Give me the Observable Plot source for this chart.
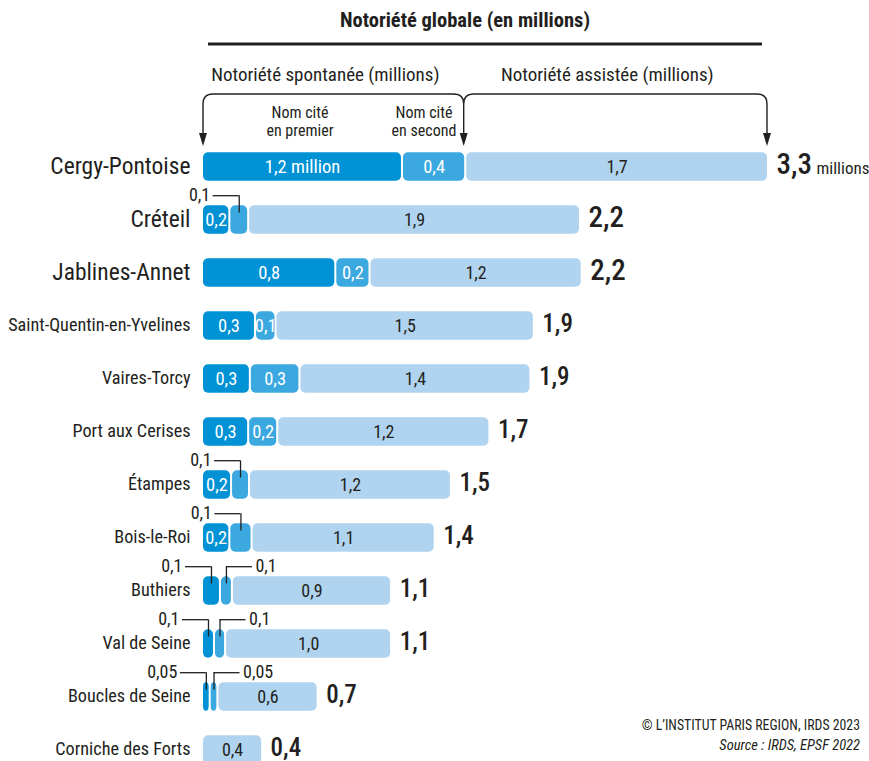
<!DOCTYPE html>
<html><head><meta charset="utf-8">
<script src="https://cdn.jsdelivr.net/npm/d3@7"></script>
<script src="https://cdn.jsdelivr.net/npm/@observablehq/plot@0.6"></script>
<style>
html,body{margin:0;padding:0;background:#fff;overflow:hidden}
#chart svg{display:block}
#chart svg, #chart svg text{font-stretch:75%}
#chart svg text.semi{font-stretch:87.5%}
</style></head><body><div id="chart"></div>
<script>
// ---- data ----
const sites = ["Cergy-Pontoise","Créteil","Jablines-Annet","Saint-Quentin-en-Yvelines","Vaires-Torcy","Port aux Cerises","Étampes","Bois-le-Roi","Buthiers","Val de Seine","Boucles de Seine","Corniche des Forts"];
// bar lengths (millions)
const first    = [1.17, 0.16, 0.78, 0.31, 0.28, 0.27, 0.17, 0.16, 0.105, 0.07, 0.045, 0];
const second   = [0.37, 0.11, 0.20, 0.12, 0.29, 0.17, 0.105, 0.13, 0.07, 0.065, 0.045, 0];
const assisted = [1.76, 1.93, 1.23, 1.50, 1.34, 1.23, 1.17, 1.06, 0.92, 0.96, 0.575, 0.34];
// printed values
const firstLabels    = ["1,2 million","0,2","0,8","0,3","0,3","0,3","0,2","0,2","0,1","0,1","0,05",""];
const secondLabels   = ["0,4","0,1","0,2","0,1","0,3","0,2","0,1","0,1","0,1","0,1","0,05",""];
const assistedLabels = ["1,7","1,9","1,2","1,5","1,4","1,2","1,2","1,1","0,9","1,0","0,6","0,4"];
const totalLabels    = ["3,3","2,2","2,2","1,9","1,9","1,7","1,5","1,4","1,1","1,1","0,7","0,4"];
// where a value is printed outside its bar with a leader ("L" left, "R" right)
const firstCallout  = ["","","","","","","","","L","L","L",""];
const secondCallout = ["","L","","","","","L","L","R","R","R",""];

const FONT = 'Roboto,"DejaVu Sans Condensed",sans-serif';
const INK = "#231f20";
const colors = {first: "#0092d4", second: "#3ba8e0", assisted: "#b0d4ef"};

// ---- build table ----
const segs = [];
const totals = [];
sites.forEach((site, i) => {
  const a = first[i], b = second[i], c = assisted[i];
  segs.push({site, i, seg: "first", x1: 0, x2: a, label: firstLabels[i], callout: firstCallout[i]});
  segs.push({site, i, seg: "second", x1: a, x2: a + b, label: secondLabels[i], callout: secondCallout[i]});
  segs.push({site, i, seg: "assisted", x1: a + b, x2: a + b + c, label: assistedLabels[i], callout: ""});
  totals.push({site, i, total: a + b + c, label: totalLabels[i]});
});
const drawn = segs.filter(d => d.x2 > d.x1);
const xMax = totals[0].total;
const pxPerUnit = (767 - 203) / xMax;
const lead = 26 / pxPerUnit;     // leader length
const inside = drawn.filter(d => d.label && !d.callout);
const callL = drawn.filter(d => d.callout === "L");
const callR = drawn.filter(d => d.callout === "R");
const mid = d => (d.x1 + d.x2) / 2 - 1 / pxPerUnit;
const barOpts = {y: "site", x1: "x1", x2: "x2", insetTop: 12.2, insetBottom: 12.2, rx: 5};

const plot = Plot.plot({
  width: 869,
  height: 761,
  x: {domain: [0, xMax], range: [203, 767], axis: null},
  y: {domain: sites, range: [138.8, 776.6], padding: 0, axis: null},
  style: {fontFamily: FONT, background: "white", color: INK},
  marks: [
    Plot.barX(drawn.filter(d => d.seg === "first"), {...barOpts, fill: colors.first, insetRight: 2}),
    Plot.barX(drawn.filter(d => d.seg === "second"), {...barOpts, fill: colors.second, insetRight: 2}),
    Plot.barX(drawn.filter(d => d.seg === "assisted"), {...barOpts, fill: colors.assisted}),
    // values inside bars
    Plot.text(inside.filter(d => d.seg !== "assisted"), {x: mid, y: "site", text: "label", fill: "white", fontSize: 18.5}),
    Plot.text(inside.filter(d => d.seg === "assisted"), {x: d => (d.x1 + d.x2) / 2, y: "site", text: "label", fill: INK, fontSize: 18}),
    // leader lines
    Plot.tickX(callL.concat(callR), {x: mid, y: "site", stroke: INK, strokeWidth: 1.3, insetTop: 2.3, insetBottom: 33.6}),
    Plot.ruleY(callL, {y: "site", x1: d => mid(d) - lead, x2: mid, dy: -24.3, stroke: INK, strokeWidth: 1.3}),
    Plot.ruleY(callR, {y: "site", x1: mid, x2: d => mid(d) + lead, dy: -24.3, stroke: INK, strokeWidth: 1.3}),
    Plot.text(callL, {x: d => mid(d) - lead, y: "site", text: "label", dx: -3, dy: -24.3, textAnchor: "end", fill: INK, fontSize: 18}),
    Plot.text(callR, {x: d => mid(d) + lead, y: "site", text: "label", dx: 3, dy: -24.3, textAnchor: "start", fill: INK, fontSize: 18}),
    // site names
    Plot.text(totals, {x: () => 0, y: "site", text: "site", dx: -13, dy: -1, textAnchor: "end", fill: INK, fontSize: d => d.i < 3 ? 23.5 : 18.2}),
    // totals
    Plot.text(totals, {x: "total", y: "site", text: "label", dx: 9, dy: -2, textAnchor: "start", fill: INK, fontWeight: 500, fontSize: d => d.i < 3 ? 29 : 25}),
    Plot.text(totals.slice(0, 1), {x: "total", y: "site", text: () => "millions", dx: 49, dy: 2, textAnchor: "start", fill: INK, fontSize: 17})
  ]
});
document.getElementById("chart").append(plot);

// ---- header annotation (positions from the x scale) ----
const svg = d3.select(plot);
const xs = plot.scale("x");
const xa = xs.apply(0), xb = xs.apply(first[0] + second[0]) - 2.5, xc = xs.apply(xMax);
const g = svg.append("g").attr("fill", INK).attr("font-family", FONT);
g.append("text").attr("x", 465).attr("y", 27).attr("text-anchor", "middle")
  .attr("font-size", 20.5).attr("font-weight", "bold").text("Notoriété globale (en millions)");
g.append("line").attr("x1", 208).attr("x2", 762).attr("y1", 44).attr("y2", 44)
  .attr("stroke", INK).attr("stroke-width", 3);
g.append("text").attr("x", (xa + xb) / 2 - 8).attr("y", 81).attr("text-anchor", "middle")
  .attr("font-size", 19).text("Notoriété spontanée (millions)");
g.append("text").attr("x", (xb + xc) / 2 - 8).attr("y", 81).attr("text-anchor", "middle")
  .attr("font-size", 19).text("Notoriété assistée (millions)");
const rad = 10, yTop = 94, yTip = 146;
const bracket = (x0, x1) => `M${x0},${yTip - 10}V${yTop + rad}Q${x0},${yTop} ${x0 + rad},${yTop}H${x1 - rad}Q${x1},${yTop} ${x1},${yTop + rad}V${yTip - 10}`;
g.append("path").attr("d", bracket(xa, xb) + bracket(xb, xc)).attr("fill", "none").attr("stroke", INK).attr("stroke-width", 1.4);
[xa, xb, xc].forEach(x => g.append("path").attr("d", `M${x - 4},${yTip - 13}L${x},${yTip}L${x + 4},${yTip - 13}Z`).attr("fill", INK));
const sub = (x, lines) => lines.forEach((t, k) => g.append("text").attr("x", x).attr("y", 118 + 17.5 * k)
  .attr("text-anchor", "middle").attr("font-size", 16).text(t));
sub(300, ["Nom cité", "en premier"]);
sub(424, ["Nom cité", "en second"]);
// footer
g.append("text").attr("x", 860).attr("y", 730).attr("text-anchor", "end").attr("font-size", 13.8).text("© L’INSTITUT PARIS REGION, IRDS 2023");
g.append("text").attr("class", "semi").attr("x", 860).attr("y", 750).attr("text-anchor", "end").attr("font-size", 14.5).attr("font-style", "italic").text("Source : IRDS, EPSF 2022");
</script></body></html>
